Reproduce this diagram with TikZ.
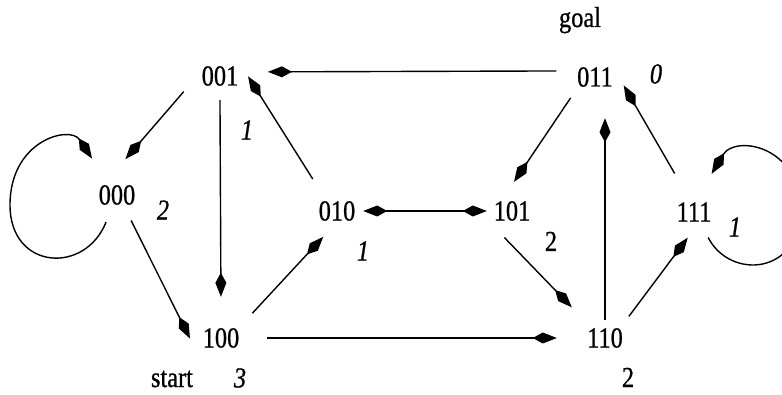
\documentclass[tikz,border=0pt]{standalone}
\usepackage{fontspec}
\setmainfont{Liberation Serif}[FakeStretch=0.84, FakeBold=0.8]
\usetikzlibrary{arrows.meta}
\tikzset{
  >={Kite[length=24pt, width=11pt, inset=10pt]},
  state/.style={circle, minimum size=58pt, inner sep=0pt,
    font=\fontsize{29}{31}\selectfont},
  cost/.style={inner sep=0pt, font=\fontsize{29}{31}\selectfont\itshape},
  tag/.style={inner sep=0pt, anchor=base, font=\fontsize{29}{31}\selectfont},
  arrow/.style={->, line width=1.4pt, color=black},
  biarrow/.style={<->, line width=1.4pt, color=black}
}

\begin{document}
\begin{tikzpicture}[x=1pt, y=-1pt]
  \useasboundingbox (0,0) rectangle (782,395);

  % States
  \node[state] (s001) at (220,76) {001};
  \node[state] (s011) at (595,77) {011};
  \node[state] (s000) at (117,195) {000};
  \node[state] (s010) at (337,211) {010};
  \node[state] (s101) at (512,211) {101};
  \node[state] (s111) at (694,212) {111};
  \node[state] (s100) at (221,338) {100};
  \node[state] (s110) at (605,338) {110};

  % Start and goal
  \node[tag] (goal) at (580,27) {goal};
  \node[tag] (start) at (172,387) {start};

  % Distances to goal
  \node[cost] (c011) at (656,74) {0};
  \node[cost] (c001) at (247,130) {1};
  \node[cost] (c000) at (163,210) {2};
  \node[cost] (c010) at (363,251) {1};
  \node[tag] (c101) at (551,251) {2};
  \node[cost] (c111) at (735,227) {1};
  \node[cost] (c100) at (240,378) {3};
  \node[tag] (c110) at (628,387) {2};

  % Transitions
  \draw[arrow, shorten <=10pt, shorten >=19pt] (s011.168) -- (s001.8);
  \draw[arrow, shorten <=12pt, shorten >=9pt] (s001.193) -- (s000.85);
  \draw[arrow, shorten <=-5pt, shorten >=12pt] (s001.south) -- (s100.north);
  \draw[arrow, shorten <=11pt, shorten >=-2pt] (s010.129) -- (s001.-4);
  \draw[arrow, shorten >=5pt] (s000.-61) -- (s100.190);
  \draw[arrow, shorten <=11pt] (s100.35) -- (s010.242);
  \draw[biarrow, shorten <=-3pt, shorten >=-4pt] (s010.east) -- (s101.west);
  \draw[arrow, shorten <=3pt] (s011.219) -- (s101.86);
  \draw[arrow, shorten <=-3pt, shorten >=16pt] (s101.259) -- (s110.139);
  \draw[arrow, shorten <=-11pt, shorten >=12pt] (s110.north) -- (s110.north |- s011.south);
  \draw[arrow, shorten <=3pt, shorten >=-3pt] (s110.41) -- (s111.254);
  \draw[arrow, shorten <=14pt, shorten >=1pt] (s111.115) -- (s011.-15);
  \draw[arrow, shorten <=17pt, shorten >=19pt] (s100.east) -- (s110.west);

  % Self loops
  \draw[arrow, shorten >=15pt] (s000.248) .. controls (85,275) and (10,270) .. (10,205)
    .. controls (10,140) and (70,125) .. (s000.125);
  \draw[arrow, shorten >=13pt] (s111.299) .. controls (730,280) and (800,275) .. (800,210)
    .. controls (800,145) and (735,135) .. (s111.68);
\end{tikzpicture}
\end{document}
